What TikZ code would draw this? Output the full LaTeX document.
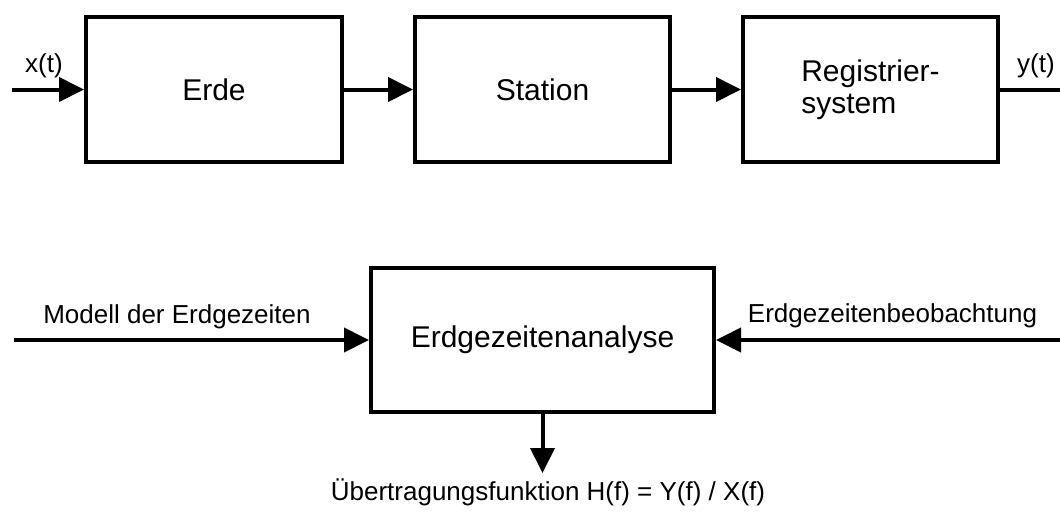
\documentclass[tikz,border=0pt]{standalone}
\usepackage{fontspec}
\setmainfont{Liberation Sans}
\usetikzlibrary{arrows.meta}

\tikzset{
    block/.style={draw, line width=3pt, minimum height=108.75pt, inner sep=0pt,
        align=left, font=\fontsize{22.5}{24}\selectfont},
    lbl/.style={anchor=base, inner sep=0pt, font=\fontsize{19.5}{22}\selectfont},
    flow/.style={line width=3pt, -{Triangle[length=18.75pt, width=18pt]}},
    wire/.style={line width=3pt},
}

\begin{document}
\begin{tikzpicture}[x=0.75pt, y=-0.75pt]
    \useasboundingbox (0,0) rectangle (1060,511);
    \node[block, minimum width=192pt] (erde) at (214,89.5) {Erde};
    \node[block, minimum width=191.25pt] (station) at (542.5,89.5) {Station};
    \node[block, minimum width=191.25pt] (reg) at (870.5,89.5) {Registrier-\\system};
    \node[block, minimum width=257.25pt, minimum height=108pt] (ana) at (542.5,340) {Erdgezeitenanalyse};
    \coordinate (xin) at (12,89.5);
    \coordinate (yout) at (1060,89.5);
    \coordinate (lin) at (14,340);
    \coordinate (rin) at (1060,340);
    \coordinate (hout) at (542.5,473);
    \node[lbl] (xt) at (44,72) {x(t)};
    \node[lbl] (yt) at (1036,72) {y(t)};
    \node[lbl] (modell) at (177,323) {Modell der Erdgezeiten};
    \node[lbl] (beob) at (892.5,322) {Erdgezeitenbeobachtung};
    \node[lbl] (hf) at (548,500) {Übertragungsfunktion H(f) = Y(f) / X(f)};
    \draw[flow] (xin) -- (erde);
    \draw[flow] (erde) -- (station);
    \draw[flow] (station) -- (reg);
    \draw[wire] (reg) -- (yout);
    \draw[flow] (lin) -- (ana);
    \draw[flow] (rin) -- (ana);
    \draw[flow] (ana) -- (hout);
\end{tikzpicture}
\end{document}
